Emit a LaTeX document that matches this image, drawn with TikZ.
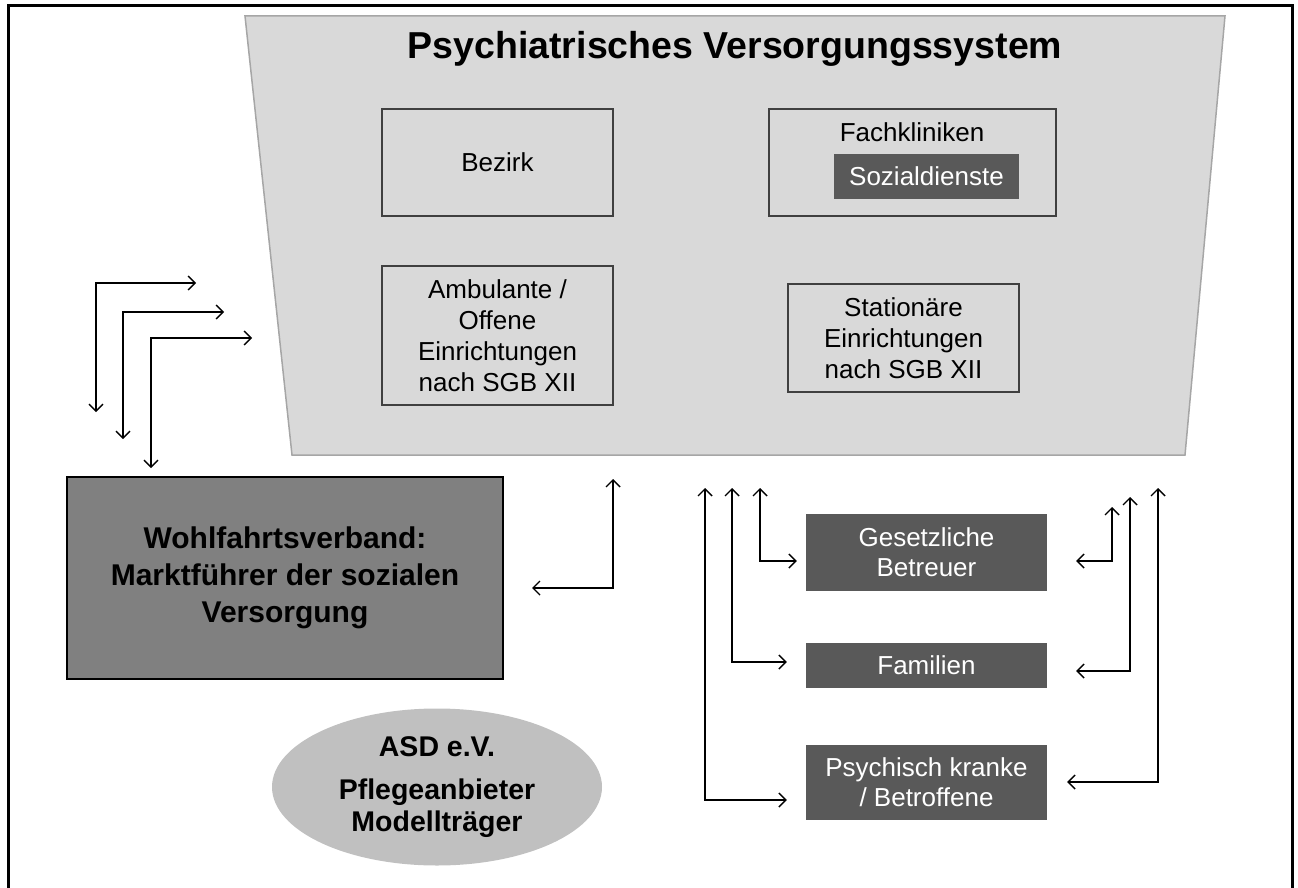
\documentclass[tikz,border=0pt]{standalone}
\usepackage{fontspec}
\setmainfont{Liberation Sans}
\usetikzlibrary{arrows.meta,calc,shapes.geometric}
\definecolor{trapfill}{HTML}{D9D9D9}
\definecolor{trapedge}{HTML}{A6A6A6}
\definecolor{darkbox}{HTML}{595959}
\definecolor{midbox}{HTML}{808080}
\definecolor{ellfill}{HTML}{C0C0C0}
\definecolor{inedge}{HTML}{404040}
\tikzset{
  inbox/.style={draw=inedge, line width=1.2pt, inner sep=0pt, align=center,
    font=\fontsize{26}{31}\selectfont},
  darkb/.style={fill=darkbox, draw=none, inner sep=0pt, align=center, text=white,
    font=\fontsize{26}{30}\selectfont},
  biarrow/.style={line width=1.4pt, {Straight Barb[length=7pt,width=14pt]}-{Straight Barb[length=7pt,width=14pt]}},
}
\begin{document}
\begin{tikzpicture}[x=1pt,y=-1pt]
\useasboundingbox (0,0) rectangle (1298,888);
% outer frame
\draw[line width=3pt] (8,895) -- (8,6) -- (1292,6) -- (1292,895);
% trapezoid
\draw[fill=trapfill, draw=trapedge, line width=1.5pt] (245,16) -- (1225,16) -- (1185,455) -- (292,455) -- cycle;
\node[font=\bfseries\fontsize{37.5}{42}\selectfont] (title) at (735,49) {Psychiatrisches Versorgungssystem};
% inner boxes
\node[inbox, minimum width=231pt, minimum height=107pt] (bez) at (497.5,162.5) {Bezirk};
\node[inbox, minimum width=287pt, minimum height=107pt] (fach) at (912.5,162.5) {};
\node[font=\fontsize{26}{30}\selectfont] (fachl) at (912,132) {Fachkliniken};
\node[darkb, minimum width=185pt, minimum height=45pt] (sozd) at (926.5,176.5) {Sozialdienste};
\node[inbox, minimum width=231pt, minimum height=139pt] (amb) at (497.5,335.5) {Ambulante /\\Offene\\Einrichtungen\\nach SGB XII};
\node[inbox, minimum width=231pt, minimum height=108pt] (stat) at (903.5,338) {Stationäre\\Einrichtungen\\nach SGB XII};
% Wohlfahrtsverband
\node[fill=midbox, draw=black, line width=2pt, minimum width=436pt, minimum height=202pt, inner sep=0pt, align=center,
  font=\bfseries\fontsize{30}{37}\selectfont] (wohl) at (285,578) {Wohlfahrtsverband:\\Marktführer der sozialen\\Versorgung};
% ellipse
\node[ellipse, fill=ellfill, draw=none, minimum width=330pt, minimum height=157pt, inner sep=0pt, align=center,
  font=\bfseries\fontsize{28.5}{32}\selectfont] (asd) at (437,787) {ASD e.V.\\[11pt]Pflegeanbieter\\Modellträger};
% right boxes
\node[darkb, minimum width=241pt, minimum height=77pt] (gb) at (926.5,552.5) {Gesetzliche\\Betreuer};
\node[darkb, minimum width=241pt, minimum height=45pt] (fam) at (926.5,665.5) {Familien};
\node[darkb, minimum width=241pt, minimum height=75pt] (psy) at (926.5,782.5) {Psychisch kranke\\/ Betroffene};
% left arrows
\coordinate (a1d) at (96,412); \coordinate (a1r) at (196,283);
\coordinate (a2d) at (123,439); \coordinate (a2r) at (224,312);
\coordinate (a3d) at (151,468); \coordinate (a3r) at (252,338);
\draw[biarrow] (a1d) |- (a1r);
\draw[biarrow] (a2d) |- (a2r);
\draw[biarrow] (a3d) |- (a3r);
% middle arrow
\coordinate (mu) at (613,479);
\draw[biarrow] (mu) |- ($(wohl.east)+(28,10)$);
% right group, left side
\coordinate (l1) at (705,488);
\coordinate (l2) at (732,488);
\coordinate (l3) at (760,488);
\draw[biarrow] (l1) |- ($(psy.west)+(-19,17.5)$);
\draw[biarrow] (l2) |- ($(fam.west)+(-19,-3.5)$);
\draw[biarrow] (l3) |- ($(gb.west)+(-9,8.5)$);
% right group, right side
\coordinate (r1) at (1112,507);
\coordinate (r2) at (1130,497);
\coordinate (r3) at (1158,488);
\draw[biarrow] (r1) |- ($(gb.east)+(29,8.5)$);
\draw[biarrow] (r2) |- ($(fam.east)+(29,5.5)$);
\draw[biarrow] (r3) |- ($(psy.east)+(20,-0.5)$);
\end{tikzpicture}
\end{document}
